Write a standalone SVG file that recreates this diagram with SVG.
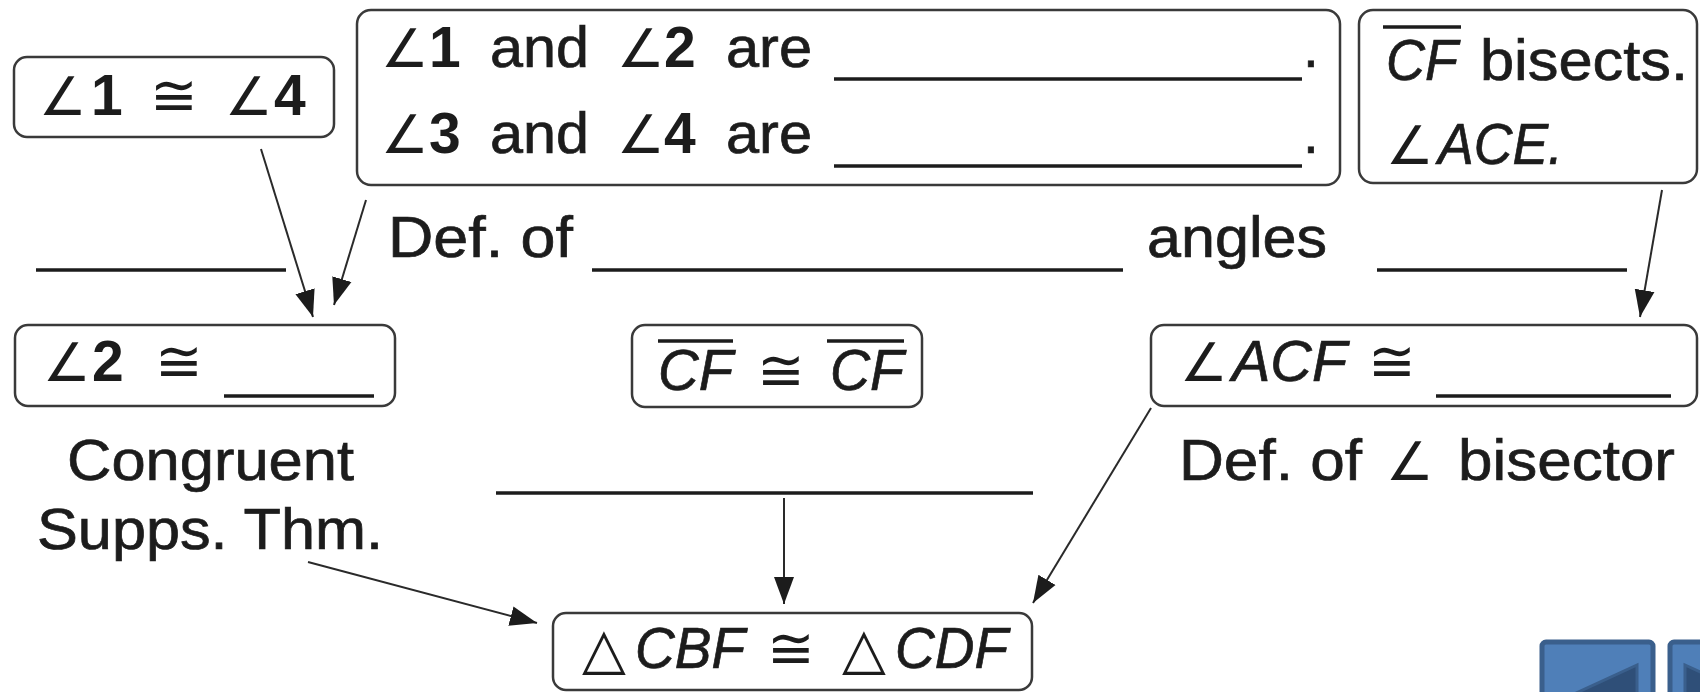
<svg xmlns="http://www.w3.org/2000/svg" width="1700" height="692" viewBox="0 0 1700 692">
<style>
  .t { font-family: "Liberation Sans", Arial, sans-serif; font-size: 57px; fill: #1c1c1c; stroke: #1c1c1c; stroke-width: 0.7; }
  .s { font-family: "DejaVu Sans", sans-serif; stroke-width: 0; }
  .a { font-family: "DejaVu Sans", sans-serif; font-size: 53px; stroke-width: 0; }
  .i { font-style: italic; }
  .b { font-weight: bold; stroke-width: 0; }
  .box { fill: #ffffff; stroke: #3a3a3a; stroke-width: 2.5; }
  .blank { stroke: #1c1c1c; stroke-width: 3.5; }
  .conn { stroke: #2a2a2a; stroke-width: 2; fill: none; marker-end: url(#ah); }
  .btn { fill: #4f7fb8; stroke: #3a5f8c; stroke-width: 5; }
  .tri { fill: #2f4f78; stroke: #3a5f8c; stroke-width: 3; }
</style>
<defs>
  <marker id="ah" markerUnits="userSpaceOnUse" markerWidth="28" markerHeight="22" refX="27" refY="11" orient="auto">
    <path d="M0,1 L27,11 L0,21 Z" fill="#1c1c1c"/>
  </marker>
</defs>
<rect width="1700" height="692" fill="#ffffff"/>

<g id="connectors">
  <line class="conn" x1="261" y1="149" x2="313" y2="317"/>
  <line class="conn" x1="366" y1="200" x2="334" y2="305"/>
  <line class="conn" x1="1662" y1="190" x2="1640" y2="317"/>
  <line class="conn" x1="308" y1="562" x2="537" y2="623"/>
  <line class="conn" x1="784" y1="498" x2="784" y2="604"/>
  <line class="conn" x1="1151" y1="408" x2="1033" y2="603"/>
</g>

<g id="node-a1-a4">
  <rect class="box" x="14" y="57" width="320" height="80" rx="13"/>
  <text class="t" y="115"><tspan class="a" x="39">∠</tspan><tspan class="b" x="91">1</tspan><tspan class="s" x="150">≅</tspan><tspan class="a" x="225">∠</tspan><tspan class="b" x="274">4</tspan></text>
</g>

<g id="node-pairs">
  <rect class="box" x="357" y="10" width="983" height="175" rx="14"/>
  <text class="t" y="67"><tspan class="a" x="381">∠</tspan><tspan class="b" x="429">1</tspan><tspan x="490" textLength="99" lengthAdjust="spacingAndGlyphs">and</tspan><tspan class="a" x="617">∠</tspan><tspan class="b" x="664">2</tspan><tspan x="726" textLength="86" lengthAdjust="spacingAndGlyphs">are</tspan><tspan x="1303">.</tspan></text>
  <line class="blank" x1="834" y1="79" x2="1302" y2="79"/>
  <text class="t" y="153"><tspan class="a" x="381">∠</tspan><tspan class="b" x="429">3</tspan><tspan x="490" textLength="99" lengthAdjust="spacingAndGlyphs">and</tspan><tspan class="a" x="617">∠</tspan><tspan class="b" x="664">4</tspan><tspan x="726" textLength="86" lengthAdjust="spacingAndGlyphs">are</tspan><tspan x="1303">.</tspan></text>
  <line class="blank" x1="834" y1="166" x2="1302" y2="166"/>
</g>

<g id="node-bisects">
  <rect class="box" x="1359" y="10" width="338" height="173" rx="14"/>
  <line class="blank" x1="1383" y1="27" x2="1461" y2="27"/>
  <text class="t" y="80"><tspan class="i" x="1386" textLength="72" lengthAdjust="spacingAndGlyphs">CF</tspan><tspan x="1480" textLength="208" lengthAdjust="spacingAndGlyphs">bisects.</tspan></text>
  <text class="t" y="164"><tspan class="a" x="1386">∠</tspan><tspan class="i" x="1438" textLength="125" lengthAdjust="spacingAndGlyphs">ACE.</tspan></text>
</g>

<g id="reason-row1">
  <line class="blank" x1="36" y1="270" x2="286" y2="270"/>
  <text class="t" y="257"><tspan x="388" textLength="185" lengthAdjust="spacingAndGlyphs">Def. of</tspan><tspan x="1147" textLength="180" lengthAdjust="spacingAndGlyphs">angles</tspan></text>
  <line class="blank" x1="592" y1="270" x2="1123" y2="270"/>
  <line class="blank" x1="1377" y1="270" x2="1627" y2="270"/>
</g>

<g id="node-a2">
  <rect class="box" x="15" y="325" width="380" height="81" rx="13"/>
  <text class="t" y="381"><tspan class="a" x="43">∠</tspan><tspan class="b" x="92">2</tspan><tspan class="s" x="155">≅</tspan></text>
  <line class="blank" x1="224" y1="396" x2="374" y2="396"/>
</g>

<g id="node-cf">
  <rect class="box" x="632" y="325" width="290" height="82" rx="13"/>
  <line class="blank" x1="658" y1="341" x2="733" y2="341"/>
  <line class="blank" x1="827" y1="341" x2="904" y2="341"/>
  <text class="t" y="390"><tspan class="i" x="658" textLength="75" lengthAdjust="spacingAndGlyphs">CF</tspan><tspan class="s" x="757">≅</tspan><tspan class="i" x="830" textLength="74" lengthAdjust="spacingAndGlyphs">CF</tspan></text>
</g>

<g id="node-acf">
  <rect class="box" x="1151" y="325" width="546" height="81" rx="13"/>
  <text class="t" y="381"><tspan class="a" x="1180">∠</tspan><tspan class="i" x="1232" textLength="115" lengthAdjust="spacingAndGlyphs">ACF</tspan><tspan class="s" x="1368">≅</tspan></text>
  <line class="blank" x1="1436" y1="396" x2="1671" y2="396"/>
</g>

<g id="reason-row2">
  <text class="t" y="480" x="67" textLength="287" lengthAdjust="spacingAndGlyphs">Congruent</text>
  <text class="t" y="549" x="37" textLength="346" lengthAdjust="spacingAndGlyphs">Supps. Thm.</text>
  <line class="blank" x1="496" y1="493" x2="1033" y2="493"/>
  <text class="t" y="480"><tspan x="1179" textLength="183" lengthAdjust="spacingAndGlyphs">Def. of</tspan><tspan class="a" x="1386">∠</tspan><tspan x="1458" textLength="217" lengthAdjust="spacingAndGlyphs">bisector</tspan></text>
</g>

<g id="node-triangles">
  <rect class="box" x="553" y="613" width="479" height="77" rx="13"/>
  <text class="t" y="668"><tspan class="s" x="582">△</tspan><tspan class="i" x="635" textLength="110" lengthAdjust="spacingAndGlyphs">CBF</tspan><tspan class="s" x="767">≅</tspan><tspan class="s" x="842">△</tspan><tspan class="i" x="895" textLength="113" lengthAdjust="spacingAndGlyphs">CDF</tspan></text>
</g>

<g id="nav-buttons">
  <rect class="btn" x="1542" y="642" width="111" height="70" rx="4"/>
  <polygon class="tri" points="1637,665 1637,760 1535,712"/>
  <rect class="btn" x="1670" y="642" width="111" height="70" rx="4"/>
  <polygon class="tri" points="1685,665 1685,760 1787,712"/>
</g>
</svg>
